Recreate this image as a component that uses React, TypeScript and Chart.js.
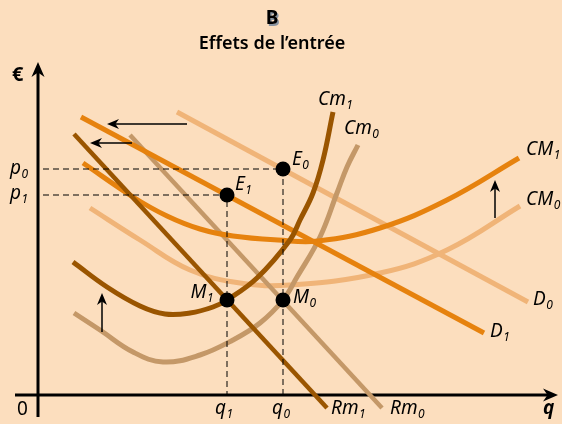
import React, { useEffect, useRef } from "react";
import { Chart, registerables } from "chart.js";
Chart.register(...registerables);

const W = 562;
const H = 424;
// value ranges (axes origin at q = 0, € = 0)
const qRange = [-38, 524];
const eurRange = [-29, 395];

const BG = "#fcdebe";
const DARK = "#9a5500";
const TAN = "#c49868";
const ORANGE = "#e6820e";
const LIGHT = "#f0b478";

// curves: [q, €]
const demandD0 = [[139, 283], [490, 93]];
const demandD1 = [[43, 278], [446, 62]];
const marginalRevenueRm1 = [[36, 261], [289, -13]];
const marginalRevenueRm0 = [[92, 260], [344, -13]];
const averageCostCM1 = [[45, 232], [95, 198], [129, 179], [162, 166], [195, 159], [240, 155], [280, 154], [342, 167], [409, 195], [481, 237]];
const averageCostCM0 = [[52, 187], [102, 155], [152, 125], [202, 112], [252, 110], [342, 122], [409, 145], [482, 189]];
const marginalCostCm1 = [[35, 133], [69, 108], [102, 89], [127, 81], [152, 82], [175, 88], [189, 95], [219, 117], [252, 155], [262, 175], [275, 202], [285, 235], [295, 283]];
const marginalCostCm0 = [[36, 82], [62, 65], [95, 43], [125, 33], [162, 40], [195, 55], [222, 72], [245, 95], [259, 118], [282, 158], [299, 202], [309, 228], [320, 250]];

// equilibrium points
const q0 = 245;
const q1 = 189;
const p0 = 226;
const p1 = 200;
const mLevel = 95;
const points = [[q0, p0], [q1, p1], [q0, mLevel], [q1, mLevel]];
const guideP0 = [[5, p0], [q0, p0], [q0, 0]];
const guideP1 = [[5, p1], [q1, p1], [q1, 0]];

// shift arrows: [fromQ, fromE, toQ, toE]
const shiftArrows = [
  [149, 271, 69, 271],
  [94, 252, 52, 252],
  [64, 63, 64, 102],
  [457, 177, 457, 215],
];

// labels: [text, subscript, q, €, align]
const labels: [string, string, number, number, string][] = [
  ["Cm", "1", 280, 295, "left"],
  ["Cm", "0", 306, 266, "left"],
  ["E", "0", 254, 235, "left"],
  ["E", "1", 197, 210, "left"],
  ["CM", "1", 488, 245, "left"],
  ["CM", "0", 488, 195, "left"],
  ["D", "0", 495, 95, "left"],
  ["D", "1", 452, 63, "left"],
  ["M", "0", 255, 97, "left"],
  ["M", "1", 176, 102, "right"],
  ["q", "1", 177, -14, "left"],
  ["q", "0", 234, -14, "left"],
  ["Rm", "1", 293, -14, "left"],
  ["Rm", "0", 352, -14, "left"],
  ["p", "0", -28, 226, "left"],
  ["p", "1", -28, 201, "left"],
];

const titleText = "B";
const subtitleText = "Effets de l’entrée";

const toXY = (arr: number[][]) => arr.map(([x, y]) => ({ x, y }));

function line(data: number[][], color: string, width = 5, smooth = true) {
  return {
    data: toXY(data),
    showLine: true,
    borderColor: color,
    borderWidth: width,
    pointRadius: 0,
    fill: false,
    cubicInterpolationMode: "default",
    tension: smooth ? 0.4 : 0,
    borderCapStyle: "butt",
  };
}

function arrowHead(ctx: CanvasRenderingContext2D, x: number, y: number, ang: number, len: number, wid: number) {
  ctx.save();
  ctx.translate(x, y);
  ctx.rotate(ang);
  ctx.beginPath();
  ctx.moveTo(0, 0);
  ctx.lineTo(-len, -wid / 2);
  ctx.lineTo(-len * 0.7, 0);
  ctx.lineTo(-len, wid / 2);
  ctx.closePath();
  ctx.fill();
  ctx.restore();
}

const FONT = '"Noto Sans", "DejaVu Sans", sans-serif';

const deco = {
  id: "deco",
  beforeDraw(chart: any) {
    const { ctx } = chart;
    ctx.save();
    ctx.fillStyle = BG;
    ctx.fillRect(0, 0, chart.width, chart.height);
    ctx.restore();
  },
  beforeDatasetsDraw(chart: any) {
    const { ctx, scales } = chart;
    const X = (v: number) => scales.x.getPixelForValue(v);
    const Y = (v: number) => scales.y.getPixelForValue(v);
    ctx.save();
    ctx.strokeStyle = "#000";
    ctx.fillStyle = "#000";
    ctx.lineWidth = 3;
    // y axis
    ctx.beginPath();
    ctx.moveTo(X(0), Y(-22));
    ctx.lineTo(X(0), Y(323));
    ctx.stroke();
    arrowHead(ctx, X(0), Y(333), -Math.PI / 2, 15, 13);
    // x axis
    ctx.beginPath();
    ctx.moveTo(X(-23), Y(0));
    ctx.lineTo(X(510), Y(0));
    ctx.stroke();
    arrowHead(ctx, X(520), Y(0), 0, 15, 13);
    ctx.restore();
  },
  afterDatasetsDraw(chart: any) {
    const { ctx, scales } = chart;
    const X = (v: number) => scales.x.getPixelForValue(v);
    const Y = (v: number) => scales.y.getPixelForValue(v);
    ctx.save();
    ctx.strokeStyle = "#000";
    ctx.fillStyle = "#000";
    ctx.lineWidth = 1.5;
    for (const [a, b, c, d] of shiftArrows) {
      const x1 = X(a), y1 = Y(b), x2 = X(c), y2 = Y(d);
      const ang = Math.atan2(y2 - y1, x2 - x1);
      ctx.beginPath();
      ctx.moveTo(x1, y1);
      ctx.lineTo(x2 - Math.cos(ang) * 6, y2 - Math.sin(ang) * 6);
      ctx.stroke();
      arrowHead(ctx, x2, y2, ang, 12, 10);
    }
    // labels
    ctx.textBaseline = "middle";
    for (const [t, s, q, e, align] of labels) {
      ctx.font = `italic 19px ${FONT}`;
      const w1 = ctx.measureText(t).width;
      ctx.font = `italic 12px ${FONT}`;
      const w2 = ctx.measureText(s).width;
      let x = X(q);
      if (align === "right") x -= w1 + w2 + 1;
      const y = Y(e);
      ctx.textAlign = "left";
      ctx.font = `italic 19px ${FONT}`;
      ctx.fillText(t, x, y);
      ctx.font = `italic 12px ${FONT}`;
      ctx.fillText(s, x + w1 + 0.5, y + 6);
    }
    ctx.font = `19px ${FONT}`;
    ctx.fillText("0", X(-21), Y(-15));
    ctx.font = `italic bold 19px ${FONT}`;
    ctx.fillText("q", X(505), Y(-14));
    ctx.font = `bold 20px ${FONT}`;
    ctx.fillText("€", X(-26), Y(320));
    // title
    ctx.textAlign = "center";
    ctx.save();
    ctx.fillStyle = "#8a94a0";
    ctx.font = `bold 19px ${FONT}`;
    ctx.fillText(titleText, 273.5, 20.5);
    ctx.restore();
    ctx.font = `bold 19px ${FONT}`;
    ctx.fillText(titleText, 272, 19);
    ctx.font = `600 18px ${FONT}`;
    ctx.fillText(subtitleText, 272, 44);
    ctx.restore();
  },
};

export default function App() {
  const ref = useRef<HTMLCanvasElement>(null);
  useEffect(() => {
    const canvas = ref.current!;
    const chart = new Chart(canvas, {
      type: "scatter",
      data: {
        datasets: [
          {
            data: toXY(points),
            pointRadius: 7.5,
            pointBackgroundColor: "#000",
            pointBorderWidth: 0,
            showLine: false,
          } as any,
          { ...line(guideP0, "#000", 1, false), borderDash: [6, 4] },
          { ...line(guideP1, "#000", 1, false), borderDash: [6, 4] },
          line(marginalRevenueRm1, DARK, 4.5, false),
          line(marginalCostCm1, DARK),
          line(demandD1, ORANGE, 5, false),
          line(averageCostCM1, ORANGE),
          line(marginalRevenueRm0, TAN, 4.5, false),
          line(marginalCostCm0, TAN),
          line(demandD0, LIGHT, 5, false),
          line(averageCostCM0, LIGHT),
        ] as any,
      },
      options: {
        animation: false,
        responsive: false,
        maintainAspectRatio: false,
        layout: { padding: 0, autoPadding: false },
        clip: false as any,
        plugins: { legend: { display: false }, tooltip: { enabled: false }, title: { display: false } },
        scales: {
          x: { type: "linear", display: false, min: qRange[0], max: qRange[1] },
          y: { type: "linear", display: false, min: eurRange[0], max: eurRange[1] },
        },
        events: [],
      },
      plugins: [deco],
    });
    return () => chart.destroy();
  }, []);
  return (
    <div style={{ position: "fixed", left: 0, top: 0, width: W, height: H, background: BG }}>
      <canvas ref={ref} width={W} height={H} style={{ display: "block", width: W, height: H }} />
    </div>
  );
}
